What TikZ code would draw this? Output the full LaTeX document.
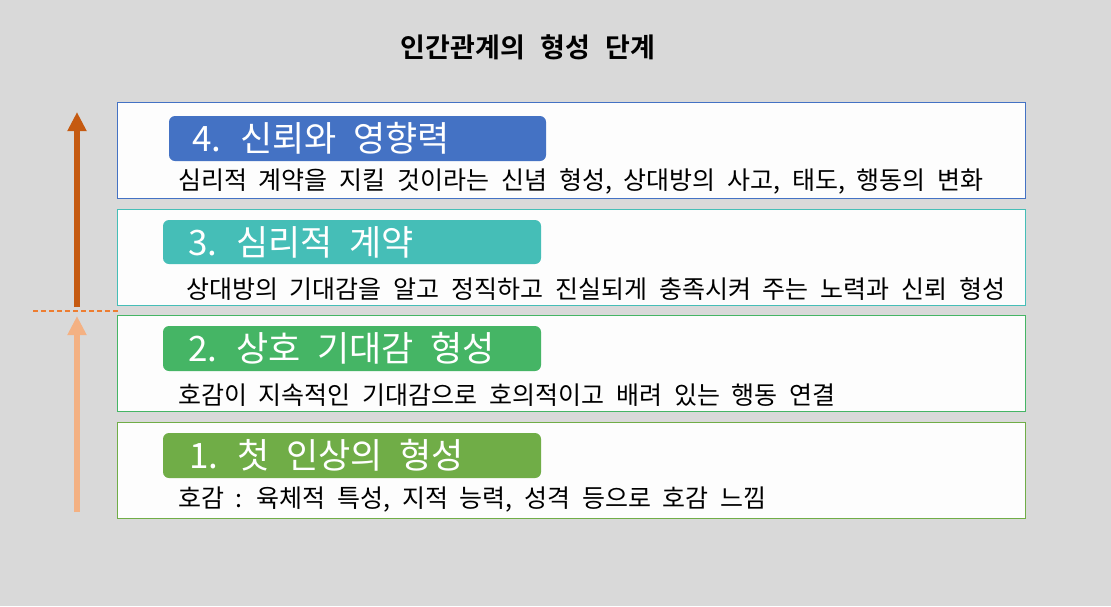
\documentclass[tikz,border=0pt]{standalone}
\usepackage{fontspec}
\setmainfont{Noto Sans CJK KR}
\newfontfamily\titlefont[WordSpace=2.5]{Noto Sans CJK KR Bold}
\newfontfamily\labfont[WordSpace=0.75]{Noto Sans CJK KR}
\newfontfamily\bodfont[WordSpace=2.1]{Noto Sans CJK KR}
\usetikzlibrary{arrows.meta}
\definecolor{bg}{HTML}{D9D9D9}
\definecolor{boxfill}{HTML}{FDFDFD}
\definecolor{cfour}{HTML}{4472C4}
\definecolor{cthree}{HTML}{45BEB7}
\definecolor{ctwo}{HTML}{45B565}
\definecolor{cone}{HTML}{70AD47}
\definecolor{arrdark}{HTML}{C55A11}
\definecolor{arrlight}{HTML}{F4B183}
\definecolor{dashc}{HTML}{ED7D31}
\tikzset{
  stagebox/.style={draw=#1, fill=boxfill, line width=0.9pt},
  labelbox/.style={fill=#1, rounded corners=6pt},
  labeltext/.style={anchor=west, inner sep=0pt, text=white, font=\labfont\fontsize{35}{38}\selectfont},
  bodytext/.style={anchor=west, inner sep=0pt, text=black, font=\bodfont\fontsize{25}{28}\selectfont},
}
\begin{document}
\begin{tikzpicture}[x=1pt,y=-1pt]
\useasboundingbox (0,0) rectangle (1111,606);
\fill[bg] (0,0) rectangle (1111,606);
% title
\node[inner sep=0pt, font=\titlefont\fontsize{27}{30}\selectfont] (title) at (528,47) {인간관계의 형성 단계};
% stage boxes
\draw[stagebox=cfour]  (117,102) rectangle (1025,198);
\draw[stagebox=cthree] (117,209) rectangle (1025,305);
\draw[stagebox=ctwo]   (117,315) rectangle (1025,411);
\draw[stagebox=cone]   (117,422) rectangle (1025,518);
% label boxes
\fill[labelbox=cfour]  (169,116) rectangle (546,161);
\fill[labelbox=cthree] (163,220) rectangle (541,264);
\fill[labelbox=ctwo]   (163,326) rectangle (541,371);
\fill[labelbox=cone]   (163,433) rectangle (541,478);
% label texts
\node[labeltext] (l4) at (192,138) {4. 신뢰와 영향력};
\node[labeltext] (l3) at (188,242) {3. 심리적 계약};
\node[labeltext] (l2) at (188,348) {2. 상호 기대감 형성};
\node[labeltext] (l1) at (189,455) {1. 첫 인상의 형성};
% body texts
\node[bodytext] (b4) at (178,181) {심리적 계약을 지킬 것이라는 신념 형성, 상대방의 사고, 태도, 행동의 변화};
\node[bodytext] (b3) at (186,289) {상대방의 기대감을 알고 정직하고 진실되게 충족시켜 주는 노력과 신뢰 형성};
\node[bodytext] (b2) at (178,395) {호감이 지속적인 기대감으로 호의적이고 배려 있는 행동 연결};
\node[bodytext] (b1) at (178,500) {호감 : 육체적 특성, 지적 능력, 성격 등으로 호감 느낌};
% arrows
\coordinate (da) at (77,307);
\coordinate (db) at (77,112);
\coordinate (la) at (77,512);
\coordinate (lb) at (77,316);
\draw[arrdark, line width=6pt, -{Triangle[length=19pt,width=18pt]}] (da) -- (db);
\draw[arrlight, line width=6pt, -{Triangle[length=19pt,width=18pt]}] (la) -- (lb);
\coordinate (dl) at (33,311);
\coordinate (dr) at (118,311);
\draw[dashc, line width=1.5pt, dash pattern=on 5pt off 3pt] (dl) -- (dr);
\end{tikzpicture}
\end{document}
